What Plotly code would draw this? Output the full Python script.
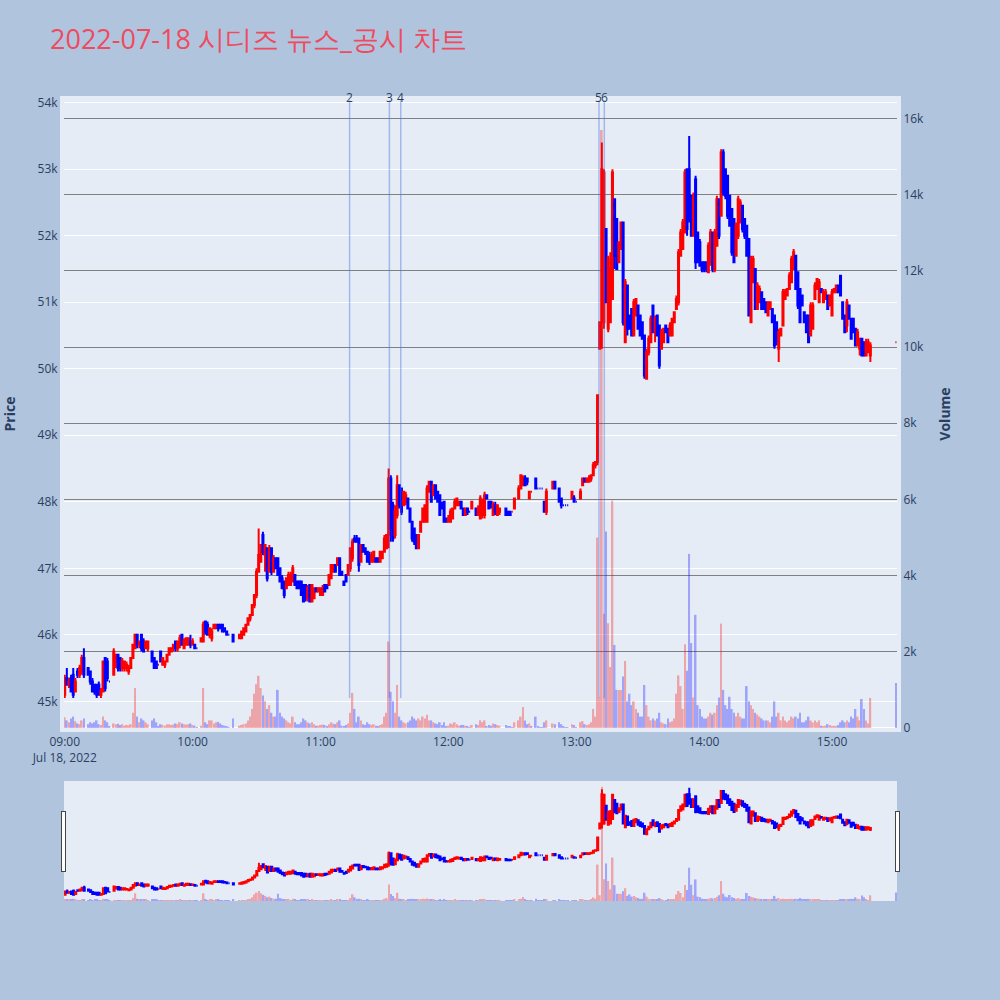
import pandas as pd
import plotly.graph_objects as go

# ---------------- data (1-minute candles, 09:00 .. 15:18, then 15:30 closing auction) -------------
open_prices = [
    45100, 45350, 45250, 45350, 45400, 45150, 45450, 45400, 45450, 45650,
    None, 45500, 45450, 45300, 45250, 45250, 45250, 45100, 45150, 45650,
    45600, 45300, None, 45400, 45600, 45700, 45650, 45500, 45500, 45500,
    45450, 45500, 45650, 45800, 46000, 45850, 46000, 45900, 45800, 45800,
    None, 45750, 45650, 45600, 45550, 45750, 45550, 45550, 45600, 45700,
    45750, 45800, 45900, 45800, 45850, 46000, 45800, 45850, 45850, 45900,
    45850, 45850, 45800, None, 45900, 45900, 46200, 46150, 46000, 45950,
    46100, 46100, 46150, 46150, 46150, 46100, 46050, 46000, None, 46000,
    None, None, 45950, 45950, 46000, 46050, 46150, 46250, 46300, 46450,
    46600, 46950, 47100, 47500, 47200, 47300, 46950, 47300, 46950, 47150,
    47150, 47000, 46850, 46800, 46700, 46750, 46750, 46800, 46900, 46800,
    46800, 46800, 46750, 46750, 46550, 46750, 46500, 46550, 46700, 46650,
    46600, 46600, 46750, 46750, 46750, 46850, 46950, 47050, 47050, 47150,
    46950, 46800, 46900, 46900, 47000, 47150, 47450, 47450, 47450, 47100,
    47350, 47300, 47250, 47200, 47100, 47100, 47150, 47150, 47100, 47150,
    47250, 47300, 47500, 48350, 47950, 47500, 47800, 48250, 48200, 47950,
    48000, 48050, 47900, 47700, 47600, 47500, 47300, 47550, 47700, 47700,
    47700, 48150, 48300, 48100, 48250, 48150, 48100, 47950, 48000, 47750,
    47700, 47700, 47750, 47900, 47950, 47950, 48000, 47900, 47800, 47900,
    47850, 47900, None, 47900, 47800, 47750, 47800, 47800, 48100, 48000,
    48000, 47800, 47950, 47800, 47850, None, None, 47900, 47850, 47850,
    47850, 47900, None, 48050, 48200, 48250, 48350, 48350, 48050, 48150,
    None, 48350, 48200, 48200, 48200, 48000, 47850, None, None, 48200,
    48300, None, 48200, 48050, 47950, 47950, 47950, None, 48050, 48050,
    48000, None, 48050, 48250, 48350, 48300, 48300, 48350, 48400, 48550,
    48600, 50300, 50700, 50700, 52100, 50600, 50700, 51050, 52550, 52250,
    51600, 51800, 52200, 50400, 51250, 50800, 50900, 50500, 50800, 50950,
    50800, 50700, 50500, 49850, 50250, 50400, 50950, 50550, 50800, 50650,
    50300, 50400, 50650, 50600, 50500, 50500, 50700, 50900, 51000, 51700,
    51800, 52050, 53000, 53000, 52600, 52000, 52850, 52050, 51900, 51600,
    51600, 51600, 51450, 51600, 52050, 51500, 51850, 52550, 52300, 53250,
    53000, 52900, 52600, 52400, 52250, 51700, 52000, 52200, 52450, 52250,
    52150, 51950, 50700, 51300, 51500, 50900, 51000, 51150, 51050, 51000,
    50800, 50900, 50900, 50800, 50700, 50300, 50500, 50650, 51050, 51100,
    51200, 51300, 51500, 51700, 51450, 51200, 51100, 50850, 50800, 50800,
    50500, 50600, 51050, 51200, 51000, 51200, 51000, 51050, 51100, 50950,
    50800, 51150, 51150, 51250, 51400, 51000, 50800, 50650, 50950, 50750,
    50750, 50600, 50350, 50300, 50450, 50400, 50200, 50250, 50200,
    50400,
]
high_prices = [
    45400, 45500, 45350, 45400, 45500, 45350, 45500, 45550, 45700, 45800,
    None, 45500, 45450, 45350, 45250, 45250, 45300, 45200, 45600, 45650,
    45650, 45300, None, 45800, 45700, 45700, 45650, 45650, 45600, 45600,
    45550, 45650, 45850, 46000, 46000, 45900, 46000, 45950, 45900, 45900,
    None, 45750, 45650, 45600, 45550, 45750, 45650, 45600, 45700, 45800,
    45800, 45850, 45900, 45900, 46000, 46000, 45950, 45950, 45950, 46000,
    45950, 45850, 45800, None, 45950, 46200, 46200, 46200, 46100, 46100,
    46150, 46150, 46150, 46150, 46150, 46100, 46050, 46000, None, 46000,
    None, None, 46000, 46050, 46100, 46150, 46250, 46300, 46450, 46600,
    47000, 47600, 47350, 47550, 47350, 47300, 47350, 47300, 47200, 47150,
    47150, 47000, 46900, 46800, 46850, 46950, 46950, 47050, 46900, 46800,
    46800, 46800, 46750, 46750, 46750, 46750, 46750, 46700, 46700, 46700,
    46700, 46750, 46750, 46750, 46900, 47050, 47050, 47050, 47150, 47150,
    46950, 46800, 46900, 47050, 47300, 47450, 47500, 47500, 47450, 47350,
    47350, 47300, 47250, 47250, 47250, 47250, 47150, 47150, 47250, 47250,
    47500, 47500, 48500, 48400, 48000, 47950, 48400, 48250, 48200, 48150,
    48150, 48050, 47900, 47700, 47600, 47500, 47500, 47700, 47900, 47950,
    48250, 48300, 48300, 48250, 48250, 48150, 48100, 48000, 48000, 47750,
    47800, 47900, 47900, 48050, 48050, 48000, 48000, 47900, 47900, 47900,
    47850, 48000, None, 47900, 47950, 48100, 48050, 48150, 48100, 48000,
    48000, 48000, 48000, 47950, 47900, None, None, 47900, 47850, 47850,
    47850, 48050, None, 48250, 48400, 48400, 48400, 48350, 48150, 48150,
    None, 48350, 48200, 48200, 48200, 48000, 48200, None, None, 48300,
    48300, None, 48200, 48050, 47950, 47950, 47950, None, 48150, 48100,
    48000, None, 48200, 48350, 48350, 48350, 48400, 48400, 48600, 48600,
    49600, 50700, 53400, 53000, 52100, 51700, 51750, 53000, 52550, 52250,
    51900, 52200, 52200, 51350, 51250, 50800, 50900, 51050, 51050, 50950,
    50800, 50700, 50500, 50300, 50500, 50800, 50950, 50800, 50800, 50650,
    50600, 50600, 50650, 50600, 50700, 50750, 50850, 51100, 51800, 52100,
    52250, 53000, 53000, 53500, 52600, 52650, 52900, 52050, 51950, 51600,
    51600, 51600, 51900, 52100, 52050, 52100, 52600, 52550, 53300, 53300,
    53000, 52900, 52600, 52400, 52250, 52200, 52600, 52550, 52450, 52250,
    52150, 51950, 51700, 51700, 51500, 51300, 51250, 51150, 51050, 51000,
    51000, 51000, 50900, 50800, 50700, 50600, 50600, 51200, 51200, 51200,
    51450, 51700, 51800, 51700, 51450, 51200, 51100, 50850, 50800, 50800,
    51000, 51000, 51300, 51350, 51350, 51200, 51200, 51200, 51100, 51100,
    51200, 51200, 51250, 51250, 51400, 51000, 50800, 51050, 50950, 50750,
    50750, 50600, 50600, 50450, 50450, 50400, 50450, 50450, 50400,
    50400,
]
low_prices = [
    45050, 45250, 45200, 45150, 45050, 45150, 45350, 45350, 45400, 45350,
    None, 45400, 45250, 45150, 45100, 45050, 45100, 45050, 45150, 45150,
    45300, 45300, None, 45400, 45500, 45450, 45450, 45450, 45450, 45450,
    45400, 45500, 45650, 45800, 45800, 45800, 45750, 45750, 45800, 45750,
    None, 45600, 45500, 45500, 45550, 45600, 45550, 45500, 45600, 45700,
    45750, 45750, 45750, 45750, 45800, 45850, 45800, 45850, 45850, 45800,
    45850, 45800, 45800, None, 45900, 45900, 46000, 46000, 45950, 45900,
    46100, 46100, 46050, 46100, 46050, 46050, 46000, 46000, None, 45900,
    None, None, 45950, 45950, 46000, 46050, 46150, 46200, 46300, 46400,
    46550, 46950, 47100, 47200, 46950, 46800, 46950, 46900, 46950, 47000,
    46900, 46800, 46700, 46550, 46700, 46750, 46750, 46800, 46750, 46700,
    46700, 46600, 46500, 46500, 46500, 46500, 46500, 46550, 46650, 46650,
    46600, 46600, 46650, 46700, 46750, 46850, 46950, 46950, 47050, 46900,
    46900, 46750, 46800, 46900, 46950, 47100, 47400, 47400, 46950, 47100,
    47250, 47200, 47100, 47050, 47100, 47100, 47100, 47100, 47100, 47150,
    47250, 47300, 47300, 47400, 47400, 47450, 47750, 47900, 47800, 47950,
    47950, 47900, 47700, 47400, 47350, 47300, 47300, 47550, 47700, 47700,
    47700, 48150, 48000, 48100, 48050, 48000, 47800, 47900, 47700, 47700,
    47700, 47700, 47750, 47900, 47950, 47950, 47900, 47800, 47800, 47800,
    47850, 47900, None, 47800, 47800, 47750, 47750, 47750, 48050, 47900,
    47900, 47800, 47800, 47800, 47800, None, None, 47800, 47800, 47800,
    47850, 47900, None, 48050, 48200, 48250, 48250, 48250, 48050, 48150,
    None, 48200, 48200, 48200, 48200, 47850, 47800, None, None, 48200,
    48200, None, 48000, 47900, 47950, 47950, 47950, None, 48050, 48000,
    48000, None, 48050, 48250, 48300, 48300, 48300, 48300, 48400, 48500,
    48550, 50300, 50300, 50600, 51000, 50550, 50700, 51050, 51500, 51500,
    51600, 51800, 50650, 50400, 50500, 50600, 50500, 50500, 50800, 50600,
    50500, 50450, 49850, 49850, 50200, 50400, 50550, 50400, 50500, 50000,
    50300, 50400, 50550, 50400, 50500, 50500, 50700, 50900, 50950, 51700,
    51800, 52050, 52000, 52200, 52000, 52000, 51500, 51600, 51550, 51450,
    51450, 51450, 51450, 51550, 51450, 51450, 51850, 51950, 52300, 52600,
    52550, 52250, 52150, 51700, 51600, 51700, 51950, 52200, 52050, 51950,
    51700, 50800, 50700, 51300, 50900, 50900, 51000, 50900, 50900, 50850,
    50800, 50900, 50700, 50300, 50350, 50100, 50500, 50650, 51050, 51100,
    51200, 51300, 51500, 51200, 50900, 50700, 50950, 50700, 50550, 50400,
    50500, 50600, 51050, 51200, 51000, 51150, 51000, 51050, 50900, 50950,
    50800, 51150, 51150, 51150, 51100, 50750, 50550, 50550, 50750, 50450,
    50550, 50350, 50350, 50200, 50200, 50200, 50200, 50250, 50100,
    50400,
]
close_prices = [
    45350, 45250, 45300, 45150, 45100, 45300, 45400, 45500, 45650, 45400,
    None, 45400, 45300, 45150, 45150, 45100, 45100, 45150, 45600, 45200,
    45350, 45300, None, 45750, 45700, 45500, 45500, 45600, 45600, 45550,
    45500, 45650, 45850, 46000, 45850, 45900, 45800, 45750, 45900, 45900,
    None, 45600, 45500, 45500, 45550, 45600, 45650, 45600, 45700, 45800,
    45800, 45850, 45800, 45900, 45950, 45850, 45900, 45950, 45950, 45850,
    45900, 45800, 45800, None, 45950, 46150, 46050, 46000, 46100, 46050,
    46150, 46150, 46100, 46100, 46050, 46050, 46000, 46000, None, 45900,
    None, None, 46000, 46050, 46100, 46150, 46250, 46300, 46450, 46600,
    46950, 47200, 47350, 47250, 47350, 46850, 47300, 46950, 47150, 47000,
    46900, 46800, 46700, 46600, 46850, 46900, 46900, 47000, 46750, 46700,
    46700, 46600, 46500, 46550, 46700, 46500, 46750, 46700, 46650, 46700,
    46700, 46700, 46650, 46700, 46900, 47050, 47050, 46950, 47150, 46900,
    46900, 46750, 46800, 47050, 47300, 47400, 47400, 47400, 47050, 47350,
    47250, 47250, 47100, 47100, 47200, 47250, 47100, 47100, 47250, 47250,
    47450, 47500, 48350, 47600, 47450, 47850, 48250, 47950, 47850, 48150,
    48100, 47900, 47700, 47450, 47400, 47300, 47500, 47700, 47900, 47950,
    48200, 48300, 48000, 48250, 48050, 48000, 47800, 47900, 47700, 47700,
    47750, 47850, 47900, 48000, 48050, 48000, 47900, 47800, 47900, 47850,
    47850, 48000, None, 47800, 47900, 48050, 48000, 48100, 48050, 47900,
    47950, 47950, 47850, 47950, 47900, None, None, 47800, 47800, 47800,
    47850, 48050, None, 48200, 48400, 48350, 48250, 48300, 48150, 48150,
    None, 48200, 48200, 48200, 48200, 47850, 48150, None, None, 48300,
    48200, None, 48000, 47950, 47950, 47950, 47950, None, 48150, 48000,
    48000, None, 48150, 48350, 48300, 48350, 48350, 48400, 48550, 48600,
    49600, 50700, 53000, 52950, 51000, 51650, 51500, 52950, 51700, 51500,
    51900, 52200, 50700, 51300, 50600, 50600, 50500, 51000, 51050, 50600,
    50500, 50450, 49900, 50250, 50450, 50750, 50550, 50750, 50500, 50050,
    50550, 50600, 50550, 50400, 50650, 50750, 50850, 51050, 51750, 52050,
    52200, 52950, 52100, 52250, 52000, 52600, 51600, 51600, 51550, 51500,
    51500, 51500, 51850, 52050, 51500, 52050, 52550, 52000, 53250, 52650,
    52600, 52300, 52150, 51750, 51600, 52150, 52550, 52500, 52100, 52000,
    51700, 50800, 51650, 51650, 50900, 51250, 51200, 50900, 50900, 50850,
    51000, 51000, 50700, 50350, 50400, 50550, 50600, 51150, 51150, 51200,
    51400, 51650, 51750, 51200, 50950, 50700, 50950, 50700, 50550, 50400,
    50950, 50950, 51250, 51350, 51300, 51150, 51150, 51150, 50900, 51100,
    51150, 51200, 51250, 51150, 51100, 50750, 50550, 51000, 50750, 50450,
    50550, 50350, 50550, 50450, 50200, 50200, 50400, 50400, 50350,
    50400,
]
volumes = [
    280, 200, 150, 250, 300, 180, 120, 100, 200, 250,
    None, 100, 150, 120, 150, 200, 100, 80, 300, 200,
    150, 30, None, 120, 100, 110, 80, 100, 60, 80,
    70, 100, 400, 1050, 300, 150, 250, 200, 150, 100,
    None, 200, 250, 150, 30, 100, 80, 60, 100, 100,
    80, 90, 120, 100, 150, 120, 100, 90, 100, 120,
    80, 60, 20, None, 60, 1050, 150, 100, 200, 200,
    120, 150, 160, 120, 80, 60, 40, 20, None, 250,
    None, None, 60, 80, 100, 120, 200, 300, 500, 900,
    1150, 1370, 1050, 850, 700, 500, 600, 400, 300, 300,
    1000, 400, 300, 250, 200, 150, 120, 300, 150, 100,
    100, 150, 250, 200, 150, 120, 150, 100, 60, 60,
    80, 90, 80, 40, 100, 150, 120, 100, 150, 200,
    60, 50, 80, 120, 400, 920, 500, 150, 300, 200,
    100, 80, 150, 100, 80, 100, 60, 50, 80, 100,
    300, 400, 2270, 950, 700, 400, 1130, 300, 200, 150,
    120, 150, 200, 300, 250, 200, 250, 200, 300, 250,
    350, 200, 200, 150, 120, 100, 150, 80, 150, 50,
    60, 120, 100, 150, 100, 60, 80, 80, 60, 50,
    20, 80, None, 100, 80, 200, 150, 200, 40, 80,
    60, 120, 100, 80, 60, None, None, 80, 50, 40,
    20, 150, None, 200, 300, 550, 200, 100, 120, 30,
    None, 300, 30, 20, 20, 150, 200, None, None, 120,
    100, None, 150, 100, 30, 20, 20, None, 100, 80,
    20, None, 150, 180, 100, 80, 100, 150, 500, 300,
    5000, 800, 15700, 3000, 5160, 2750, 1600, 5970, 2180, 1000,
    1000, 1000, 1350, 1760, 700, 900, 600, 700, 500, 400,
    300, 300, 1130, 600, 300, 200, 250, 200, 250, 400,
    150, 120, 100, 250, 150, 180, 250, 900, 1380, 1100,
    500, 2200, 1500, 4570, 2230, 800, 2970, 600, 500, 300,
    250, 250, 300, 400, 350, 400, 600, 800, 2740, 1000,
    600, 500, 820, 500, 400, 300, 400, 300, 250, 250,
    1100, 700, 600, 500, 400, 350, 300, 250, 200, 200,
    200, 150, 300, 700, 300, 400, 200, 300, 200, 150,
    200, 300, 250, 300, 250, 400, 150, 150, 200, 300,
    200, 150, 200, 150, 200, 60, 50, 60, 100, 80,
    50, 60, 50, 80, 150, 200, 150, 200, 150, 300,
    250, 500, 300, 200, 760, 500, 200, 120, 790,
    1180,
]

session_start = "2022-07-18 09:00"
closing_auction = "2022-07-18 15:30"
x_view = ["2022-07-18 08:59:40", "2022-07-18 15:30:30"]

event_times = ["2022-07-18 11:13:40", "2022-07-18 11:32:20", "2022-07-18 11:37:40",
               "2022-07-18 13:10:40", "2022-07-18 13:13:10"]
event_labels = ["2", "3", "4", "5", "6"]

title_text = "2022-07-18 시디즈 뉴스_공시 차트"

# ---------------- build figure ----------------
n_regular = len(open_prices) - 1
times = list(pd.date_range(session_start, periods=n_regular, freq="1min")) + [pd.Timestamp(closing_auction)]

vol_colors = [
    ("red" if (o is not None and c is not None and c > o) else "blue")
    for o, c in zip(open_prices, close_prices)
]

valid_lows = [v for v in low_prices if v is not None]
valid_highs = [v for v in high_prices if v is not None]
line_bottom = min(valid_lows)
line_top = max(valid_highs) * 1.01

price_range = [min(valid_lows) * 0.99, max(valid_highs) * 1.0101]
vol_max = max(v for v in volumes if v is not None)
volume_range = [0, vol_max * 1.05]

PLOT_BG = "#E5ECF6"

fig = go.Figure()

fig.add_trace(go.Candlestick(
    x=times, open=open_prices, high=high_prices, low=low_prices, close=close_prices,
    increasing=dict(line=dict(color="red", width=2), fillcolor="red"),
    decreasing=dict(line=dict(color="blue", width=2), fillcolor="blue"),
    name="Price", showlegend=False, yaxis="y",
))
fig.add_trace(go.Bar(
    x=times, y=volumes, marker=dict(color=vol_colors, line=dict(width=0)),
    opacity=0.3, name="Volume", showlegend=False, yaxis="y2",
))

for t, lab in zip(event_times, event_labels):
    fig.add_shape(type="line", xref="x", yref="y", x0=t, x1=t, y0=line_bottom, y1=line_top,
                  line=dict(color="rgba(65,105,225,0.4)", width=1.5), layer="above")
    fig.add_annotation(x=t, xref="x", y=1, yref="paper", text=lab, showarrow=False,
                       xanchor="center", yanchor="middle", yshift=3,
                       font=dict(size=12, color="#2a3f5f"))

axis_line = dict(showline=True, linecolor=PLOT_BG, linewidth=4, mirror=True)

fig.update_layout(
    width=1000, height=1000,
    template="plotly",
    paper_bgcolor="lightsteelblue",
    plot_bgcolor=PLOT_BG,
    margin=dict(l=64, r=103, t=100, b=99),
    showlegend=False,
    title=dict(text=title_text, x=0.05, xanchor="left", y=0.96, yanchor="middle",
               font=dict(size=27, color="#EE4B5E")),
    xaxis=dict(
        type="date", showgrid=False, range=x_view, **axis_line,
        rangeslider=dict(visible=True, bgcolor=PLOT_BG, autorange=True),
    ),
    yaxis=dict(title=dict(text="<b>Price</b>", standoff=20), range=price_range,
               automargin=False, **axis_line),
    yaxis2=dict(title=dict(text="<b>Volume</b>", standoff=18), overlaying="y", side="right",
                range=volume_range, showgrid=True, gridcolor="grey", automargin=False,
                showline=True, linecolor=PLOT_BG, linewidth=4),
)

fig.write_html("out.html", config={"displayModeBar": False},
               post_script="document.body.style.margin='0';")
